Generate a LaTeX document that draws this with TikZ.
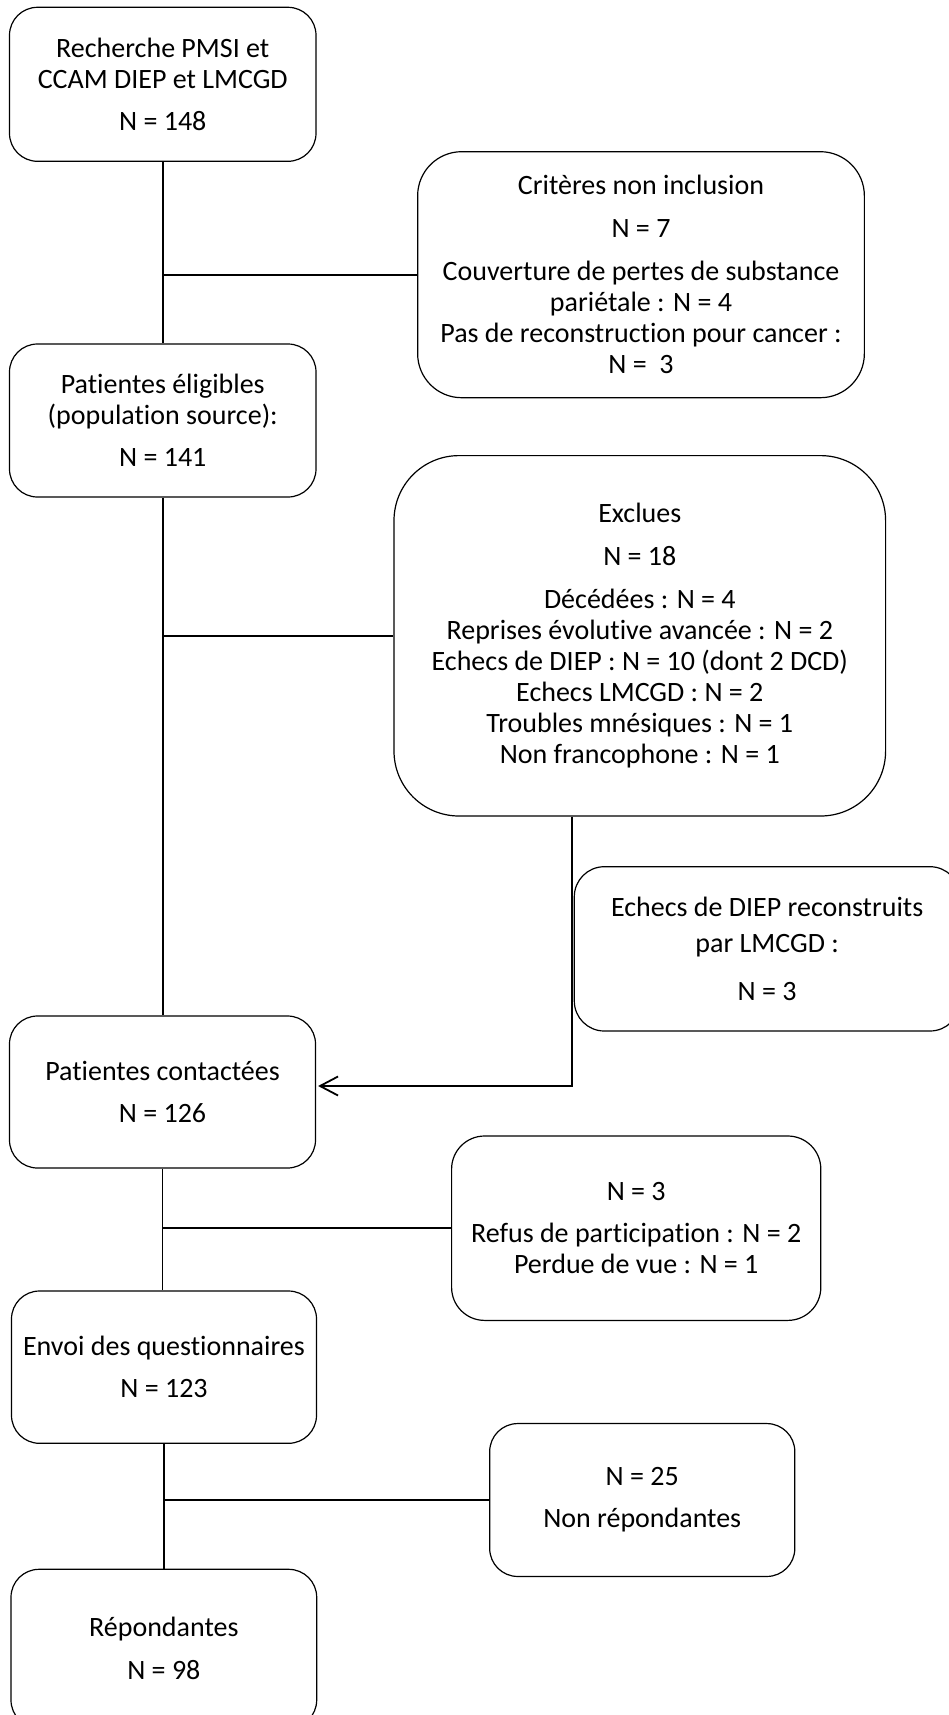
\documentclass[tikz,border=0pt]{standalone}
\usepackage{fontspec}
\setmainfont{Carlito}[Ligatures=NoCommon]
\usepackage{tikz}
\usetikzlibrary{arrows.meta}

\begin{document}
\begin{tikzpicture}[x=1pt,y=-1pt,
  boite/.style={draw,line width=1.2pt,align=center,inner sep=0pt,
    font=\fontsize{28}{31}\selectfont},
  lien/.style={line width=1.8pt},
  fleche/.style={line width=1.8pt,-{Straight Barb[length=18pt,width=19pt,line width=1.8pt]}}]
\useasboundingbox (0,0) rectangle (949,1715);
% colonne de gauche
\node[boite,minimum width=306.5pt,minimum height=154pt,rounded corners=28pt] (rech) at (162.75,84.3)
  {Recherche PMSI et\\ CCAM DIEP et LMCGD\\[11pt] N = 148};
\node[boite,minimum width=306.5pt,minimum height=153pt,rounded corners=28pt] (elig) at (162.75,420.5)
  {Patientes éligibles\\ (population source):\\[11pt] N = 141};
\node[boite,minimum width=306pt,minimum height=152pt,rounded corners=28pt] (cont) at (162.5,1092)
  {Patientes contactées\\[11pt] N = 126};
\node[boite,minimum width=305pt,minimum height=152.3pt,rounded corners=28pt] (envoi) at (164,1367.15)
  {Envoi des questionnaires\\[11pt] N = 123};
\node[boite,minimum width=305.7pt,minimum height=158.7pt,rounded corners=28pt] (repond) at (163.85,1648.65)
  {Répondantes\\[12pt] N = 98};
% colonne de droite
\node[boite,minimum width=446.7pt,minimum height=246pt,rounded corners=44pt] (crit) at (641,274.7)
  {Critères non inclusion\\[12pt] N = 7\\[12pt] Couverture de pertes de substance\\ pariétale : N = 4\\
   Pas de reconstruction pour cancer :\\ N =~~3};
\node[boite,minimum width=491.6pt,minimum height=360.4pt,rounded corners=65pt] (excl) at (639.8,635.8)
  {Exclues\\[12pt] N = 18\\[12pt] Décédées : N = 4\\ Reprises évolutive avancée : N = 2\\
   Echecs de DIEP : N = 10 (dont 2 DCD)\\ Echecs LMCGD : N = 2\\ Troubles mnésiques : N = 1\\
   Non francophone : N = 1};
\node[boite,minimum width=385.7pt,minimum height=164.3pt,rounded corners=30pt] (recon) at (767.15,948.85)
  {Echecs de DIEP reconstruits\\[5pt] par LMCGD :\\[17pt] N = 3};
\node[boite,minimum width=369.2pt,minimum height=184.4pt,rounded corners=33pt] (refus) at (636.2,1228.2)
  {N = 3\\[11pt] Refus de participation : N = 2\\ Perdue de vue : N = 1};
\node[boite,minimum width=305.1pt,minimum height=152.9pt,rounded corners=28pt] (nonrep) at (642.25,1500)
  {N = 25\\[11pt] Non répondantes};
% liens
\draw[lien] (rech) -- (elig);
\draw[lien] (rech.south |- crit.west) -- (crit.west);
\draw[lien] (elig.south) -- (elig.south |- cont.north);
\draw[lien] (elig.south |- excl.west) -- (excl.west);
\draw[fleche] ([xshift=-2pt]recon.west |- excl.south) |- ([xshift=2pt,yshift=6pt]cont.east);
\draw[lien] (cont.south) -- (cont.south |- envoi.north);
\draw[lien] (cont.south |- refus.west) -- (refus.west);
\draw[lien] (envoi.south) -- (envoi.south |- repond.north);
\draw[lien] (envoi.south |- nonrep.west) -- (nonrep.west);
\end{tikzpicture}
\end{document}
